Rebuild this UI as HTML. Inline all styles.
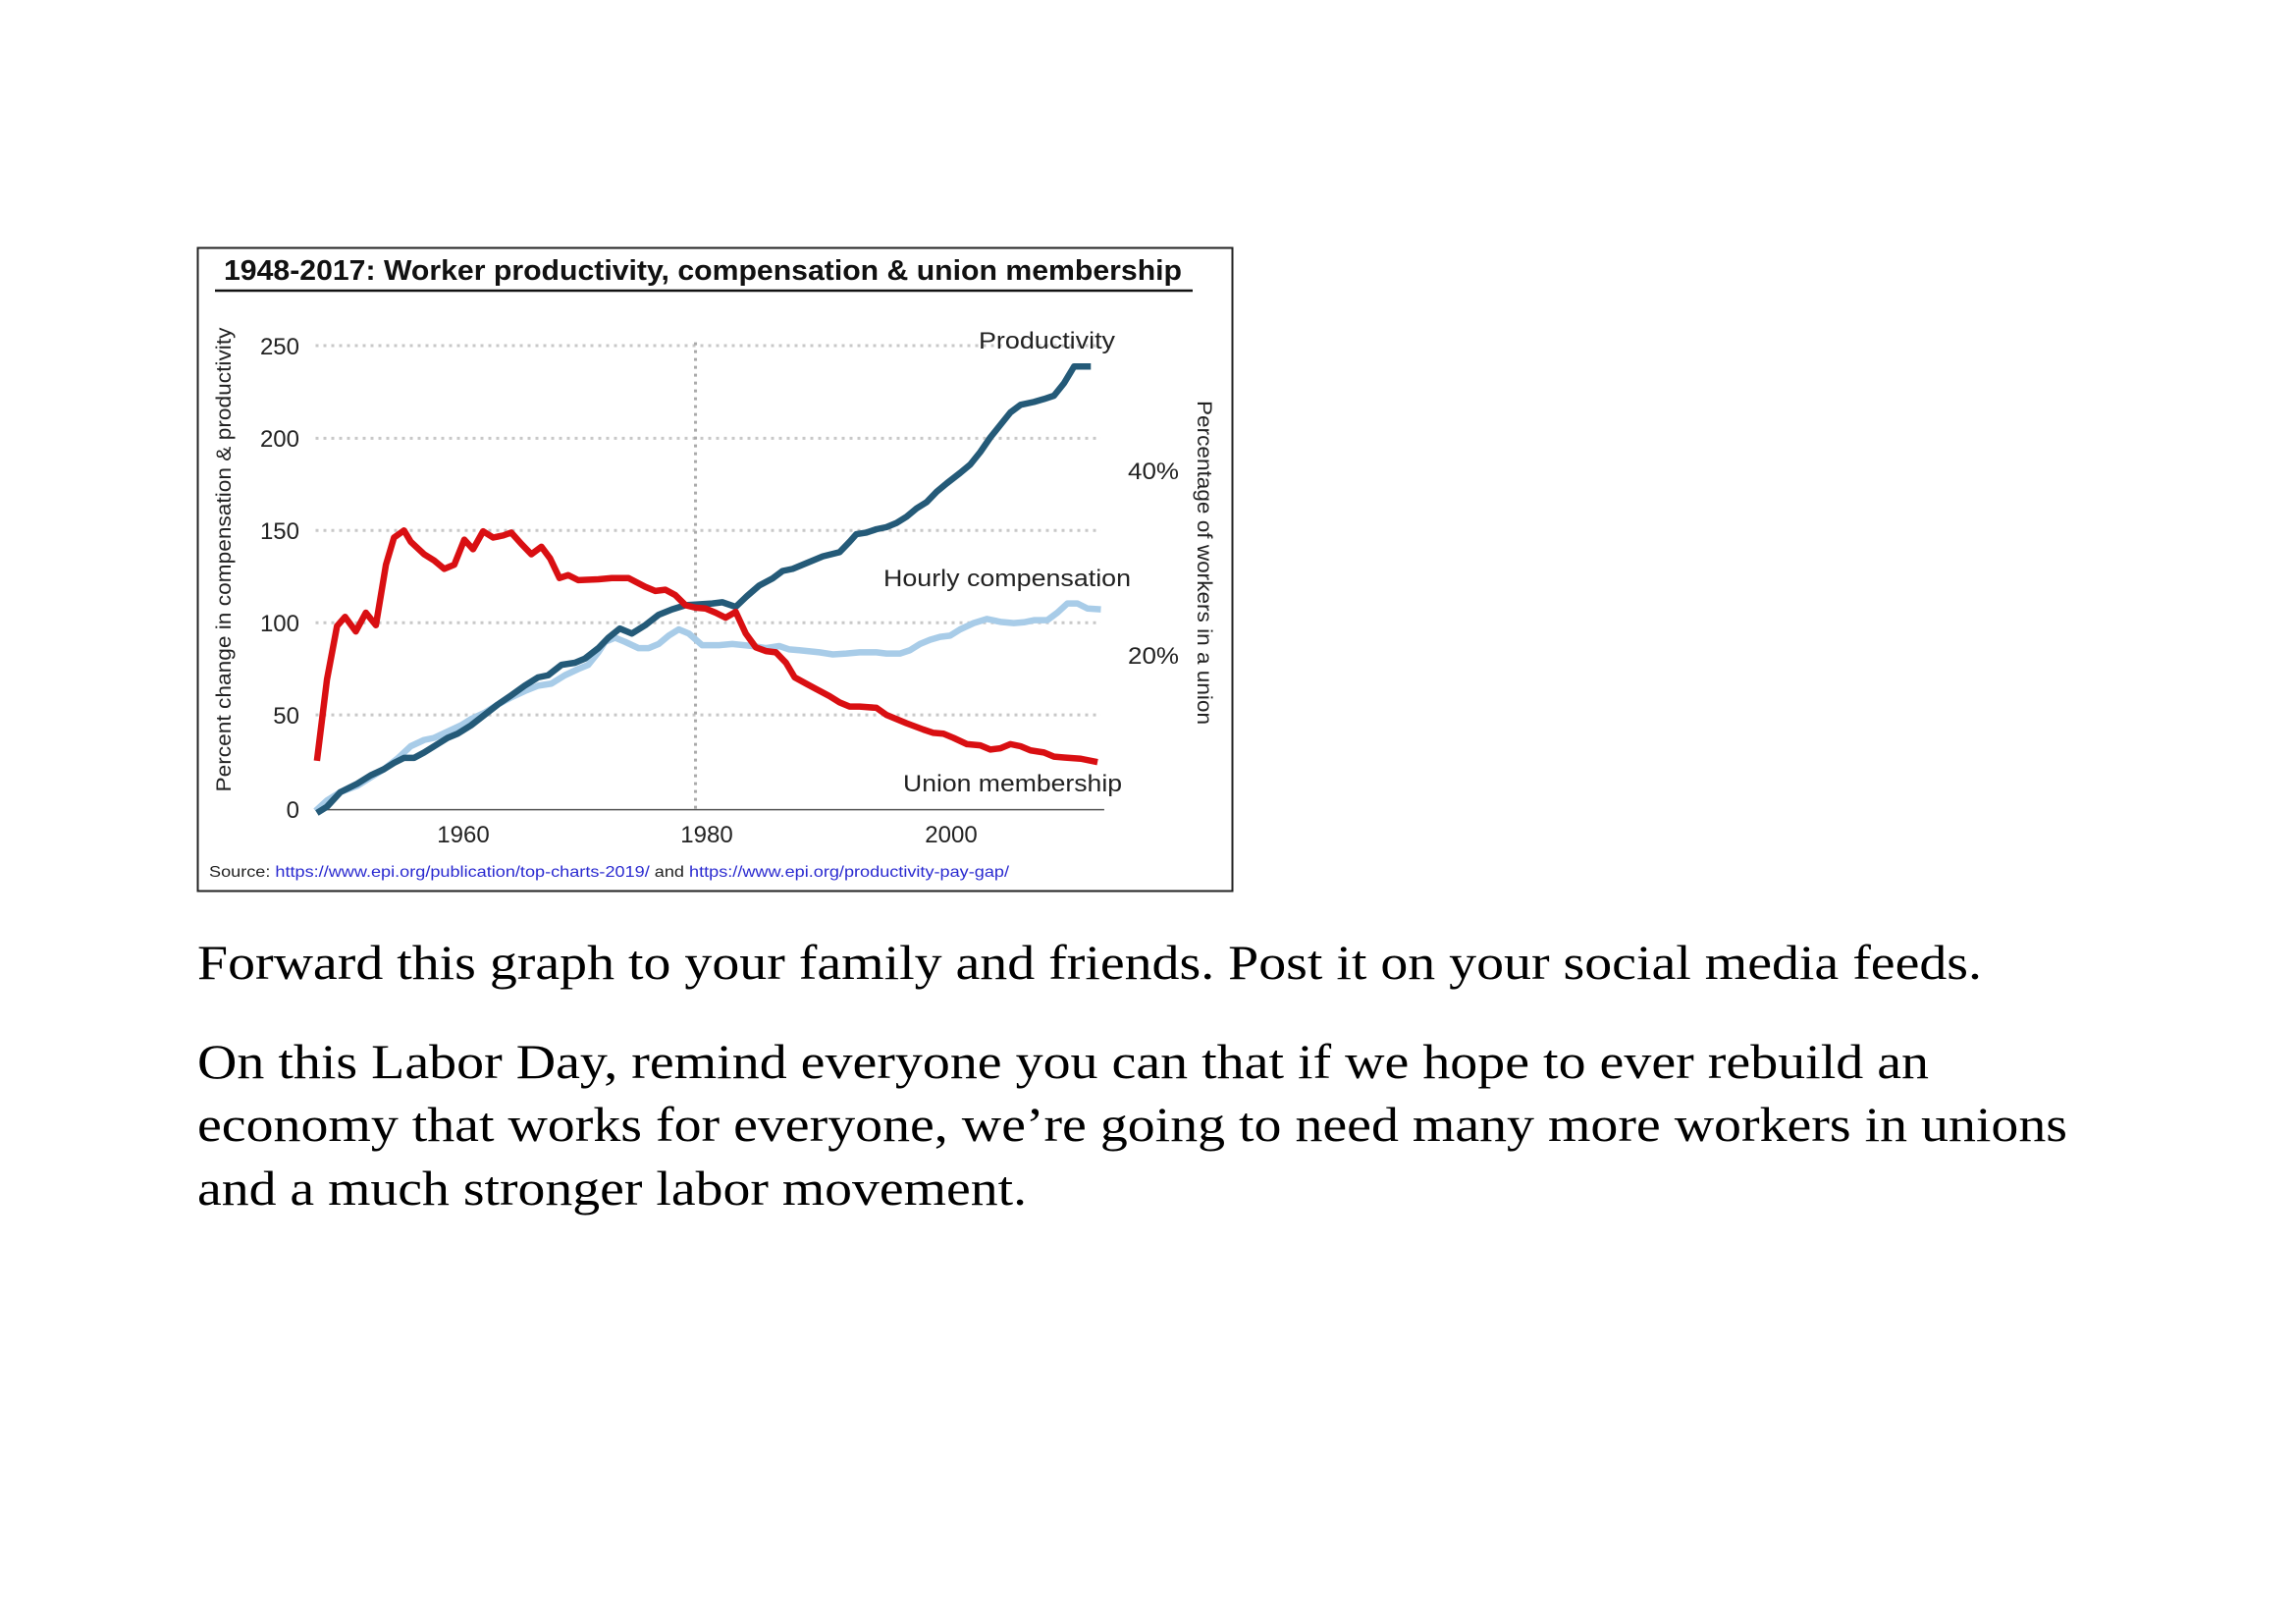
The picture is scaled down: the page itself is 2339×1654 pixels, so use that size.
<!DOCTYPE html>
<html><head><meta charset="utf-8"><style>
html,body{margin:0;padding:0;background:#fff;}
svg{display:block;}
</style></head><body>
<svg width="2339" height="1654" viewBox="0 0 2339 1654" xmlns="http://www.w3.org/2000/svg">
<rect x="0" y="0" width="2339" height="1654" fill="#fff"/>
<rect x="201.5" y="252.5" width="1054" height="655" fill="#fff" stroke="#222" stroke-width="2"/>
<text x="228" y="285" font-family="Liberation Sans, sans-serif" font-weight="bold" font-size="29" textLength="976" lengthAdjust="spacingAndGlyphs" fill="#111">1948-2017: Worker productivity, compensation &amp; union membership</text>
<line x1="219" y1="296" x2="1215" y2="296" stroke="#111" stroke-width="2.5"/>
<g transform="translate(200,250) scale(0.6826,0.425)">
<g stroke="#c8c8c8" stroke-width="3" stroke-dasharray="3 5" fill="none">
<line x1="178" y1="240" x2="1350" y2="240" vector-effect="non-scaling-stroke"/>
<line x1="178" y1="462" x2="1350" y2="462" vector-effect="non-scaling-stroke"/>
<line x1="178" y1="683" x2="1350" y2="683" vector-effect="non-scaling-stroke"/>
<line x1="178" y1="904" x2="1350" y2="904" vector-effect="non-scaling-stroke"/>
<line x1="178" y1="1125" x2="1350" y2="1125" vector-effect="non-scaling-stroke"/>
<line x1="745" y1="232" x2="745" y2="1350" stroke="#aaa" vector-effect="non-scaling-stroke"/>
</g>
<line x1="178" y1="1352" x2="1355" y2="1352" stroke="#555" stroke-width="1.5" vector-effect="non-scaling-stroke"/>
<polyline fill="none" stroke="#a8cce8" stroke-width="6.5" stroke-linejoin="round" vector-effect="non-scaling-stroke" points="178,1355 195,1330 215,1310 240,1295 260,1275 280,1255 300,1230 320,1200 340,1185 355,1180 375,1165 395,1150 410,1135 430,1120 450,1100 470,1083 490,1068 510,1055 530,1050 550,1030 570,1015 585,1005 600,975 610,950 625,940 640,950 660,965 675,965 690,955 705,935 720,920 735,930 755,958 780,958 800,955 830,960 850,965 870,960 885,968 900,970 930,975 950,980 970,978 990,975 1015,975 1030,978 1050,978 1065,970 1080,955 1095,945 1110,938 1125,935 1140,920 1160,905 1180,895 1200,902 1220,905 1235,903 1250,898 1270,898 1285,880 1300,858 1315,858 1330,870 1350,872"/>
<polyline fill="none" stroke="#245a78" stroke-width="6.5" stroke-linejoin="round" vector-effect="non-scaling-stroke" points="180,1360 195,1345 215,1310 240,1290 260,1270 280,1255 295,1240 310,1228 325,1228 340,1215 360,1195 375,1180 390,1170 410,1150 430,1125 450,1100 470,1078 490,1055 510,1035 525,1030 545,1005 565,1000 580,990 600,965 615,940 632,918 650,930 670,910 690,885 710,872 730,862 750,860 770,858 785,855 805,866 822,840 840,815 860,798 875,780 890,775 905,765 920,755 935,745 960,735 975,710 985,692 1000,688 1015,680 1030,675 1045,665 1060,650 1075,630 1090,615 1105,590 1120,570 1140,545 1155,525 1170,495 1185,460 1200,430 1215,400 1230,382 1250,375 1265,368 1280,360 1295,330 1310,290 1335,290"/>
<polyline fill="none" stroke="#d90f12" stroke-width="6.5" stroke-linejoin="round" vector-effect="non-scaling-stroke" points="180,1235 195,1040 210,912 222,890 238,925 253,880 268,910 283,765 295,700 310,683 320,710 340,740 355,755 370,775 385,765 400,705 413,728 428,685 443,700 458,695 470,688 485,715 500,740 515,722 528,750 542,797 555,790 570,802 600,800 620,797 645,797 670,818 685,828 700,825 715,838 730,862 745,868 760,870 775,880 790,892 805,878 820,930 835,963 850,972 865,975 880,1000 893,1035 910,1050 925,1063 945,1080 960,1095 975,1105 990,1105 1015,1108 1030,1125 1045,1135 1060,1145 1085,1160 1100,1168 1115,1170 1130,1180 1150,1195 1170,1198 1185,1208 1200,1205 1215,1195 1230,1200 1245,1210 1265,1215 1280,1225 1295,1227 1320,1230 1345,1238"/>
</g>
<g font-family="Liberation Sans, sans-serif" font-size="24" fill="#222">
<text x="305" y="361" text-anchor="end">250</text>
<text x="305" y="455" text-anchor="end">200</text>
<text x="305" y="549" text-anchor="end">150</text>
<text x="305" y="643" text-anchor="end">100</text>
<text x="305" y="737" text-anchor="end">50</text>
<text x="305" y="833" text-anchor="end">0</text>
<text x="472" y="858" text-anchor="middle">1960</text>
<text x="720" y="858" text-anchor="middle">1980</text>
<text x="969" y="858" text-anchor="middle">2000</text>
<text x="1149" y="488" textLength="52" lengthAdjust="spacingAndGlyphs">40%</text>
<text x="1149" y="676" textLength="52" lengthAdjust="spacingAndGlyphs">20%</text>
<text x="997" y="355" textLength="139" lengthAdjust="spacingAndGlyphs">Productivity</text>
<text x="900" y="597" textLength="252" lengthAdjust="spacingAndGlyphs">Hourly compensation</text>
<text x="920" y="806" textLength="223" lengthAdjust="spacingAndGlyphs">Union membership</text>
<text transform="translate(235,570) rotate(-90)" text-anchor="middle" font-size="21" textLength="473" lengthAdjust="spacingAndGlyphs">Percent change in compensation &amp; productivity</text>
<text transform="translate(1220,573) rotate(90)" text-anchor="middle" font-size="21" textLength="330" lengthAdjust="spacingAndGlyphs">Percentage of workers in a union</text>
</g>
<text x="213" y="893" font-family="Liberation Sans, sans-serif" font-size="16" fill="#222" textLength="815" lengthAdjust="spacingAndGlyphs">Source: <tspan fill="#2a2ad0">https://www.epi.org/publication/top-charts-2019/</tspan> and <tspan fill="#2a2ad0">https://www.epi.org/productivity-pay-gap/</tspan></text>
<g font-family="Liberation Serif, serif" font-size="50" fill="#000">
<text x="201" y="997" textLength="1818" lengthAdjust="spacingAndGlyphs">Forward this graph to your family and friends. Post it on your social media feeds.</text>
<text x="201" y="1098" textLength="1764" lengthAdjust="spacingAndGlyphs">On this Labor Day, remind everyone you can that if we hope to ever rebuild an</text>
<text x="201" y="1162" textLength="1905" lengthAdjust="spacingAndGlyphs">economy that works for everyone, we’re going to need many more workers in unions</text>
<text x="201" y="1227" textLength="845" lengthAdjust="spacingAndGlyphs">and a much stronger labor movement.</text>
</g>
</svg>
</body></html>
